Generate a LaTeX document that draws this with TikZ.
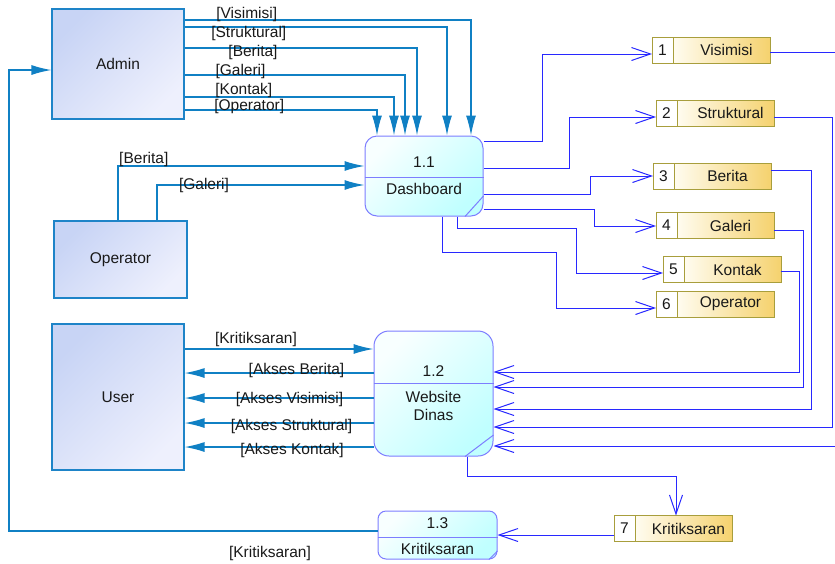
\documentclass[tikz,border=0pt]{standalone}
\usepackage{fontspec}
\setmainfont{Liberation Sans}
\usepackage{tikz}
\usetikzlibrary{arrows.meta,positioning}
\definecolor{flowblue}{RGB}{16,128,196}
\definecolor{storeline}{RGB}{40,40,255}
\definecolor{entborder}{RGB}{30,132,200}
\definecolor{entA}{RGB}{200,212,245}
\definecolor{entB}{RGB}{238,240,253}
\definecolor{procborder}{RGB}{125,125,255}
\definecolor{procA}{RGB}{248,255,255}
\definecolor{procB}{RGB}{192,255,255}
\definecolor{storeborder}{RGB}{168,158,60}
\definecolor{storeA}{RGB}{255,252,240}
\definecolor{storeB}{RGB}{245,210,110}
\definecolor{txt}{RGB}{25,25,25}

\begin{document}
\begin{tikzpicture}[x=1pt,y=-1pt,
    every node/.style={font=\fontsize{15.5}{18}\selectfont, text=txt},
    entity/.style={draw=entborder, line width=1.2pt, top color=entA, bottom color=entB, shading angle=45},
    process/.style={draw=procborder, line width=1pt, rounded corners=12pt, top color=procA, bottom color=procB, shading angle=45},
    procline/.style={draw=procborder, line width=1pt},
    storeno/.style={draw=storeborder, line width=1pt, fill=white, minimum width=21pt, minimum height=26pt, inner sep=0pt, outer sep=0pt},
    storename/.style={draw=storeborder, line width=1pt, left color=storeA, right color=storeB, minimum width=97pt, minimum height=26pt, inner sep=0pt, outer sep=0pt, execute at begin node=\hspace*{10pt}},
    lbl/.style={inner sep=0pt},
    flow/.style={flowblue, line width=1.3pt, -{Latex[length=20pt,width=10pt]}},
    sflow/.style={storeline, line width=1pt, -{Straight Barb[length=19pt,width=13pt]}}]
\useasboundingbox (0,0) rectangle (835,563);

% external entities
\node[entity, minimum width=132pt, minimum height=110pt] (admin) at (118,64) {Admin};
\node[entity, minimum width=133pt, minimum height=77pt] (operator) at (120.5,259.5) {Operator};
\node[entity, minimum width=132pt, minimum height=146pt] (user) at (118,397) {User};

% processes
\node[process, minimum width=118pt, minimum height=80pt] (p1) at (424,176) {};
\draw[procline] (p1.west |- 0,177) -- (p1.east |- 0,177);
\draw[procline] (p1.east |- 0,196) -- (p1.south -| 465,0);
\node[lbl] (p1no) at (424,162) {1.1};
\node[lbl] (p1name) at (424,189) {Dashboard};

\node[process, rounded corners=15pt, minimum width=119pt, minimum height=125pt] (p2) at (433.5,393.5) {};
\draw[procline] (p2.west |- 0,383) -- (p2.east |- 0,383);
\draw[procline] (p2.east |- 0,435) -- (p2.south -| 465,0);
\node[lbl] (p2no) at (433.5,371) {1.2};
\node[lbl, align=center] (p2name) at (433.5,406) {Website\\Dinas};

\node[process, rounded corners=8pt, minimum width=119pt, minimum height=48pt] (p3) at (437.5,535) {};
\draw[procline] (p3.west |- 0,537) -- (p3.east |- 0,537);
\draw[procline] (p3.east |- 0,551) -- (p3.south -| 489,0);
\node[lbl] (p3no) at (437.5,523) {1.3};
\node[lbl] (p3name) at (437.5,549) {Kritiksaran};

% data stores
\node[storeno] (s1n) at (662.5,50) {1};
\node[storename, right=0pt of s1n] (s1) {Visimisi};
\node[storeno] (s2n) at (666.5,113) {2};
\node[storename, right=0pt of s2n] (s2) {Struktural};
\node[storeno] (s3n) at (663.5,176) {3};
\node[storename, right=0pt of s3n] (s3) {Berita};
\node[storeno] (s4n) at (666.5,225.5) {4};
\node[storename, right=0pt of s4n] (s4) {Galeri};
\node[storeno] (s5n) at (673.5,269.5) {5};
\node[storename, right=0pt of s5n] (s5) {Kontak};
\node[storeno] (s6n) at (666.5,304) {6};
\node[storename, right=0pt of s6n] (s6) {Operator};
\node[storeno] (s7n) at (624.5,528.5) {7};
\node[storename, right=0pt of s7n] (s7) {Kritiksaran};

% admin -> dashboard
\draw[flow] (admin.east |- 0,20) -| (p1.north -| 471,0);
\draw[flow] (admin.east |- 0,27) -| (p1.north -| 447,0);
\draw[flow] (admin.east |- 0,48) -| (p1.north -| 417,0);
\draw[flow] (admin.east |- 0,75) -| (p1.north -| 405,0);
\draw[flow] (admin.east |- 0,97) -| (p1.north -| 394,0);
\draw[flow] (admin.east |- 0,110) -| (p1.north -| 377,0);
\node[lbl] (lav) at (246.7,14) {[Visimisi]};
\node[lbl] (las) at (248.8,33.3) {[Struktural]};
\node[lbl] (lab) at (253,52.3) {[Berita]};
\node[lbl] (lag) at (240.5,71) {[Galeri]};
\node[lbl] (lak) at (243.8,90) {[Kontak]};
\node[lbl] (lao) at (249.2,106) {[Operator]};

% operator -> dashboard
\draw[flow] (operator.north -| 118,0) |- (p1.west |- 0,166);
\draw[flow] (operator.north -| 157,0) |- (p1.west |- 0,185);
\node[lbl] (lob) at (143.8,159) {[Berita]};
\node[lbl] (log) at (204,185.7) {[Galeri]};

% dashboard -> stores
\draw[sflow] (p1.east |- 0,141) -| (542,54) -- (s1n.west |- 0,54);
\draw[sflow] (p1.east |- 0,168) -| (569,117) -- (s2n.west |- 0,117);
\draw[sflow] (p1.east |- 0,194) -| (590,176) -- (s3n.west);
\draw[sflow] (p1.east |- 0,209) -| (594,226) -- (s4n.west |- 0,226);
\draw[sflow] (p1.south -| 457,0) |- (576,228) |- (s5n.west |- 0,273);
\draw[sflow] (p1.south -| 442,0) |- (556,252) |- (s6n.west |- 0,308);

% stores -> website dinas
\draw[sflow] (s5.east |- 0,271) -| (799,372) -- (p2.east |- 0,372);
\draw[sflow] (s4.east |- 0,230) -| (803,387) -- (p2.east |- 0,387);
\draw[sflow] (s3.east |- 0,170) -| (811,409) -- (p2.east |- 0,409);
\draw[sflow] (s2.east |- 0,117) -| (832,427) -- (p2.east |- 0,427);
\draw[sflow] (s1.east |- 0,52) -| (845,446) -- (p2.east |- 0,446);

% website dinas -> kritiksaran store -> 1.3 -> admin
\draw[sflow] (p2.south -| 467,0) |- (676,476) -- (s7.north -| 676,0);
\draw[sflow] (s7n.west |- 0,535) -- (p3.east |- 0,535);
\draw[flow] (p3.west |- 0,531) -| (9,70) -- (admin.west |- 0,70);
\node[lbl] (lpk) at (270,553.3) {[Kritiksaran]};

% user <-> website dinas
\draw[flow] (user.east |- 0,349) -- (p2.west |- 0,349);
\draw[flow] (p2.west |- 0,373) -- (user.east |- 0,373);
\draw[flow] (p2.west |- 0,398) -- (user.east |- 0,398);
\draw[flow] (p2.west |- 0,423) -- (user.east |- 0,423);
\draw[flow] (p2.west |- 0,447) -- (user.east |- 0,447);
\node[lbl] (luk) at (256,339) {[Kritiksaran]};
\node[lbl] (lub) at (296.5,370.7) {[Akses Berita]};
\node[lbl] (luv) at (289.5,399) {[Akses Visimisi]};
\node[lbl] (lus) at (291.5,426) {[Akses Struktural]};
\node[lbl] (lut) at (292,450.7) {[Akses Kontak]};
\end{tikzpicture}
\end{document}
